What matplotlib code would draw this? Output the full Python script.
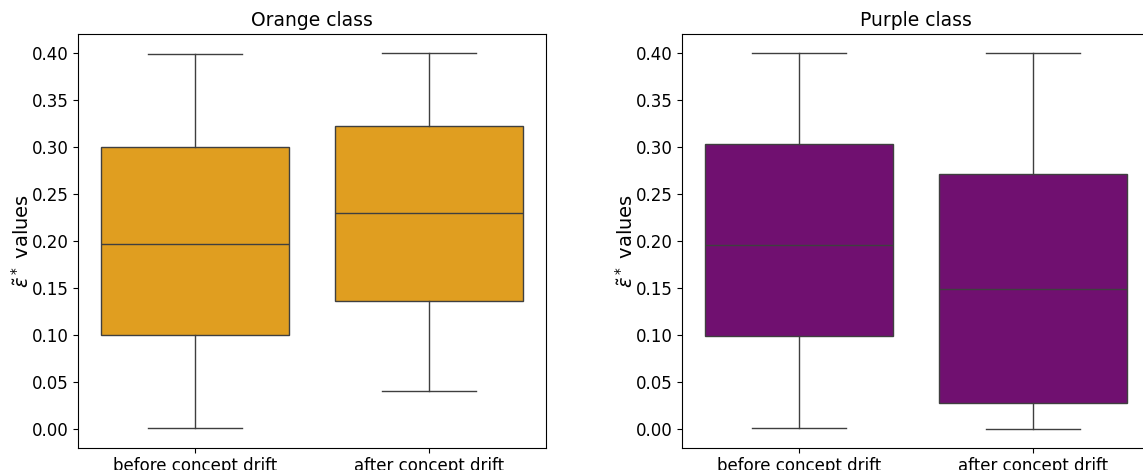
import matplotlib
matplotlib.use("Agg")
import matplotlib.pyplot as plt

# box statistics (whisker low, q1, median, q3, whisker high)
categories = ["before concept drift", "after concept drift"]
titles = ["Orange class", "Purple class"]
colors = ["#e09e20", "#701070"]

orange_low = [0.001, 0.040]
orange_q1 = [0.100, 0.136]
orange_med = [0.197, 0.230]
orange_q3 = [0.300, 0.322]
orange_high = [0.399, 0.400]

purple_low = [0.001, 0.000]
purple_q1 = [0.099, 0.028]
purple_med = [0.196, 0.149]
purple_q3 = [0.303, 0.271]
purple_high = [0.400, 0.400]

W, H = 1143, 470
fig = plt.figure(figsize=(W / 100, H / 100), dpi=100)
ax_l = fig.add_axes([78 / W, (H - 447.7) / H, 468 / W, 413.4 / H])
ax_r = fig.add_axes([682 / W, (H - 447.7) / H, 468 / W, 413.4 / H])

groups = [
    (orange_low, orange_q1, orange_med, orange_q3, orange_high),
    (purple_low, purple_q1, purple_med, purple_q3, purple_high),
]

line = dict(color="#3f3f3f", linewidth=1.0)
for ax, (lo, q1, med, q3, hi), col, title in zip([ax_l, ax_r], groups, colors, titles):
    stats = []
    for i, name in enumerate(categories):
        stats.append({"whislo": lo[i], "q1": q1[i], "med": med[i], "q3": q3[i],
                      "whishi": hi[i], "fliers": [], "label": name})
    ax.bxp(stats, positions=[0, 1], widths=0.8, patch_artist=True, showfliers=False,
           boxprops=dict(facecolor=col, edgecolor="#3f3f3f", linewidth=1.0),
           medianprops=line, whiskerprops=line, capprops=line, capwidths=0.4)
    ax.set_xlim(-0.5, 1.5)
    ax.set_ylim(-0.02, 0.42)
    ax.set_yticks([0.0, 0.05, 0.10, 0.15, 0.20, 0.25, 0.30, 0.35, 0.40])
    ax.set_yticklabels([f"{v:.2f}" for v in ax.get_yticks()])
    ax.tick_params(labelsize=12)
    ax.set_title(title, fontsize=13.5)
    ax.set_ylabel(r"$\tilde{\varepsilon}^*$ values", fontsize=14, labelpad=-1)

fig.savefig("out.png", dpi=100)
